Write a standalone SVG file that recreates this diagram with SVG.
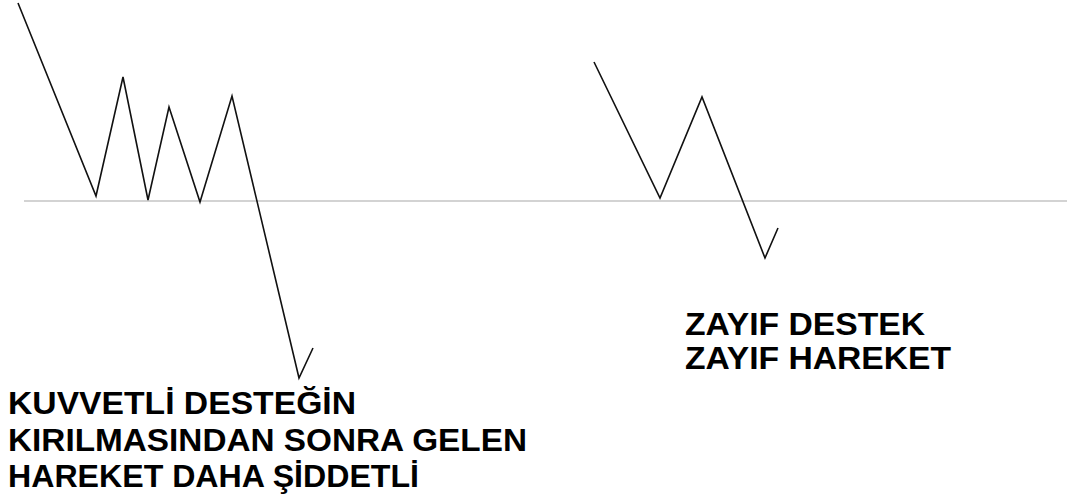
<svg xmlns="http://www.w3.org/2000/svg" width="1067" height="503" viewBox="0 0 1067 503">
<style>
.zig{fill:none;stroke:#111;stroke-width:1.6;stroke-linejoin:miter}
.lbl{font-family:"Liberation Sans",Arial,sans-serif;font-weight:bold;font-size:32px;fill:#000}
</style>
<rect width="1067" height="503" fill="#fff"/>
<g id="support-line">
<line x1="24" y1="201" x2="1067" y2="201" stroke="#c4c4c4" stroke-width="1.6"/>
</g>
<g id="connectors">
<polyline id="strong-move" class="zig" points="18,3 96,196 123,77 148,200 169,107 200,202 232,96 299,378 313,348"/>
<polyline id="weak-move" class="zig" points="594,62 660,198 702,97 765,258 778,228"/>
</g>
<g id="label-strong">
<text class="lbl" x="8" y="414" textLength="348" lengthAdjust="spacingAndGlyphs">KUVVETLİ DESTEĞİN</text>
<text class="lbl" x="8" y="451" textLength="519" lengthAdjust="spacingAndGlyphs">KIRILMASINDAN SONRA GELEN</text>
<text class="lbl" x="8" y="487" textLength="411" lengthAdjust="spacingAndGlyphs">HAREKET DAHA ŞİDDETLİ</text>
</g>
<g id="label-weak">
<text class="lbl" x="685" y="335" textLength="240" lengthAdjust="spacingAndGlyphs">ZAYIF DESTEK</text>
<text class="lbl" x="685" y="369" textLength="266" lengthAdjust="spacingAndGlyphs">ZAYIF HAREKET</text>
</g>
</svg>
